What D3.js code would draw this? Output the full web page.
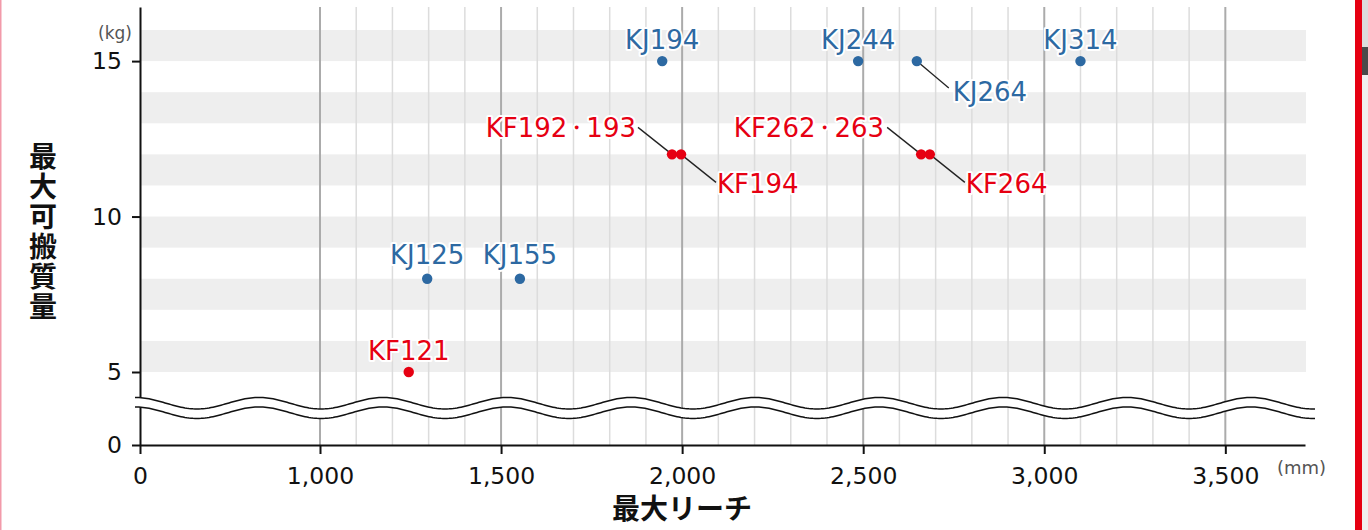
<!DOCTYPE html>
<html>
<head>
<meta charset="utf-8">
<script src="https://cdn.jsdelivr.net/npm/d3@7"></script>
<style>
  html, body { margin: 0; padding: 0; background: #fff; }
  svg { display: block; }
</style>
</head>
<body>
<div id="chart"></div>
<script>
// ---------- data ----------
const names   = ["KJ194", "KJ244", "KJ264", "KJ314", "KF192・193", "KF194", "KF262・263", "KF264", "KJ125", "KJ155", "KF121"];
const reach   = [1945, 2486, 2648, 3100, 1972, 1997, 2660, 2684, 1296, 1552, 1245];   // mm
const payload = [15, 15, 15, 15, 12, 12, 12, 12, 8, 8, 5];                              // kg
const series  = ["KJ", "KJ", "KJ", "KJ", "KF", "KF", "KF", "KF", "KJ", "KJ", "KF"];
const xTicks  = [0, 1000, 1500, 2000, 2500, 3000, 3500];
const yTicks  = [0, 5, 10, 15];
const bands   = [5, 7, 9, 11, 13, 15];   // grey band starts (1 kg high)

// ---------- layout ----------
const width = 1368, height = 530;
const plot = {left: 140, right: 1305, top: 7, bottom: 445};
const colors = {KJ: "#2d69a2", KF: "#e60012"};
const latin = "'DejaVu Sans', Verdana, sans-serif";
const cjk = "'Noto Sans CJK JP', 'Noto Sans', sans-serif";

// label placement: [dx, dy, anchor, leader line end dx, dy or null]
const labelPos = {
  "KJ194":      [0, -12, "middle", null],
  "KJ244":      [0, -12, "middle", null],
  "KJ314":      [0, -12, "middle", null],
  "KJ264":      [36, 40, "start", [32, 27]],
  "KF192・193": [-36, -17, "end", [-34, -27]],
  "KF194":      [36, 39, "start", [35, 28]],
  "KF262・263": [-37, -17, "end", [-34, -27]],
  "KF264":      [36, 39, "start", [35, 28]],
  "KJ125":      [0, -15, "middle", null],
  "KJ155":      [0, -15, "middle", null],
  "KF121":      [0, -12, "middle", null]
};

const data = names.map((n, i) => ({name: n, x: reach[i], y: payload[i], s: series[i]}));

const svg = d3.select("#chart").append("svg")
  .attr("width", width).attr("height", height);

// page edge decoration
svg.append("rect").attr("x", 0).attr("y", 0).attr("width", 1.5).attr("height", height).attr("fill", "#f29aaa");
svg.append("rect").attr("x", 1355).attr("y", 0).attr("width", 7).attr("height", height).attr("fill", "#e60012");
svg.append("rect").attr("x", 1362).attr("y", 0).attr("width", 6).attr("height", height).attr("fill", "#f0f0f0");
svg.append("rect").attr("x", 1362).attr("y", 0).attr("width", 6).attr("height", 47).attr("fill", "#dcdcdc");
svg.append("rect").attr("x", 1362).attr("y", 47).attr("width", 6).attr("height", 28).attr("fill", "#4a4a4a");

// ---------- scales (piecewise: both axes are compressed near zero) ----------
const x = d3.scaleLinear().domain([0, 1000, 3720]).range([plot.left, 320, plot.right]);
const y = d3.scaleLinear().domain([0, 5, 16.74]).range([plot.bottom, 372, plot.top]);

// grey bands
svg.append("g").selectAll("rect")
  .data(bands)
  .join("rect")
    .attr("x", plot.left)
    .attr("width", plot.right - plot.left + 1)
    .attr("y", d => y(d + 1))
    .attr("height", d => y(d) - y(d + 1))
    .attr("fill", "#eeeeee");

// vertical grid
const minor = d3.range(1100, 3500, 100).filter(d => d % 500 !== 0);
svg.append("g").selectAll("line")
  .data(minor)
  .join("line")
    .attr("x1", d => x(d)).attr("x2", d => x(d))
    .attr("y1", plot.top).attr("y2", plot.bottom)
    .attr("stroke", "#dcdcdc").attr("stroke-width", 1.5);
svg.append("g").selectAll("line")
  .data(xTicks.filter(d => d >= 1000))
  .join("line")
    .attr("x1", d => x(d)).attr("x2", d => x(d))
    .attr("y1", plot.top).attr("y2", plot.bottom)
    .attr("stroke", "#ababab").attr("stroke-width", 2);

// axes
const gx = svg.append("g")
  .attr("transform", `translate(0, ${plot.bottom})`)
  .call(d3.axisBottom(x).tickValues(xTicks).tickFormat(d3.format(",")).tickSize(9).tickPadding(13).tickSizeOuter(0))
  .call(g => g.select(".domain").attr("stroke", "#111").attr("stroke-width", 2))
  .call(g => g.selectAll(".tick line").attr("stroke", "#111").attr("stroke-width", 2))
  .call(g => g.selectAll(".tick text").attr("fill", "#111").style("font", `23.5px ${latin}`));

const gy = svg.append("g")
  .attr("transform", `translate(${plot.left}, 0)`)
  .call(d3.axisLeft(y).tickValues(yTicks).tickSize(8).tickPadding(10).tickSizeOuter(0))
  .call(g => g.select(".domain").attr("stroke", "#111").attr("stroke-width", 2))
  .call(g => g.selectAll(".tick line").attr("stroke", "#111").attr("stroke-width", 2))
  .call(g => g.selectAll(".tick text").attr("fill", "#111").style("font", `23.5px ${latin}`));

// axis break (double wave, white inside)
const wx0 = 135, wx1 = 1315, period = 124, amp = 5.75, wy = 403.2, gap = 9.5;
const wxs = d3.range(wx0, wx1 + 0.5, 2);
const waveY = xx => wy - amp * Math.cos(2 * Math.PI * (xx - wx0) / period);
const upper = wxs.map(xx => [xx, waveY(xx)]);
const lower = wxs.map(xx => [xx, waveY(xx) + gap]);
const line = d3.line();
svg.append("path")
  .attr("d", line(upper.concat(lower.slice().reverse())) + "Z")
  .attr("fill", "#fff");
svg.append("path").attr("d", line(upper)).attr("fill", "none").attr("stroke", "#111").attr("stroke-width", 1.5);
svg.append("path").attr("d", line(lower)).attr("fill", "none").attr("stroke", "#111").attr("stroke-width", 1.5);

// leader lines
svg.append("g").selectAll("line")
  .data(data.filter(d => labelPos[d.name][3]))
  .join("line")
    .attr("x1", d => x(d.x)).attr("y1", d => y(d.y))
    .attr("x2", d => x(d.x) + labelPos[d.name][3][0])
    .attr("y2", d => y(d.y) + labelPos[d.name][3][1])
    .attr("stroke", "#222").attr("stroke-width", 1.3);

// points
svg.append("g").selectAll("circle")
  .data(data)
  .join("circle")
    .attr("cx", d => x(d.x)).attr("cy", d => y(d.y))
    .attr("r", 5.2)
    .attr("fill", d => colors[d.s]);

// labels (the middle dot is full width in the CJK font, so set it smaller)
svg.append("g").selectAll("text")
  .data(data)
  .join("text")
    .attr("x", d => x(d.x) + labelPos[d.name][0])
    .attr("y", d => y(d.y) + labelPos[d.name][1])
    .attr("text-anchor", d => labelPos[d.name][2])
    .attr("fill", d => colors[d.s])
    .attr("stroke", "#fff").attr("stroke-width", 4).attr("stroke-linejoin", "round")
    .attr("paint-order", "stroke")
    .style("font", `26px ${latin}`)
    .each(function(d) {
      const parts = d.name.split("・");
      const t = d3.select(this);
      if (parts.length === 1) { t.text(d.name); return; }
      t.append("tspan").text(parts[0]);
      t.append("tspan").attr("dy", -3).style("font-size", "19px").style("font-weight", "bold").text("・");
      t.append("tspan").attr("dy", 3).text(parts[1]);
    });

// unit labels
svg.append("text").attr("x", 132).attr("y", 39).attr("text-anchor", "end")
  .attr("fill", "#555").style("font", `17px ${latin}`).text("(kg)");
svg.append("text").attr("x", 1277).attr("y", 474)
  .attr("fill", "#555").style("font", `18px ${latin}`).text("(mm)");

// axis titles
svg.append("text")
  .attr("x", 43).attr("y", 142)
  .style("writing-mode", "vertical-rl")
  .style("letter-spacing", "2px")
  .attr("fill", "#111")
  .style("font", `bold 28px ${cjk}`)
  .text("最大可搬質量");

svg.append("text")
  .attr("x", 682).attr("y", 507)
  .attr("text-anchor", "middle")
  .attr("dominant-baseline", "central")
  .attr("fill", "#111")
  .style("font", `bold 28px ${cjk}`)
  .text("最大リーチ");
</script>
</body>
</html>
